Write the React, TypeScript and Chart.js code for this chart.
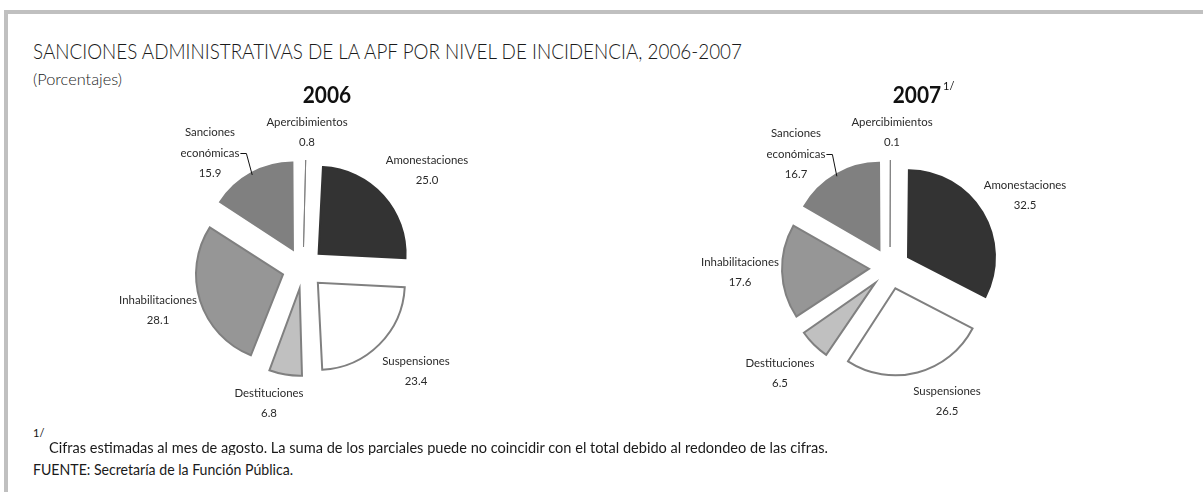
import React, { useEffect, useLayoutEffect, useRef } from 'react';
import { Chart, registerables } from 'chart.js';

Chart.register(...registerables);

// ---------------- data ----------------
const categories = [
  'Apercibimientos',
  'Amonestaciones',
  'Suspensiones',
  'Destituciones',
  'Inhabilitaciones',
  'Sanciones económicas',
];
const labelLines = [
  ['Apercibimientos'],
  ['Amonestaciones'],
  ['Suspensiones'],
  ['Destituciones'],
  ['Inhabilitaciones'],
  ['Sanciones', 'económicas'],
];
const values2006 = [0.8, 25.0, 23.4, 6.8, 28.1, 15.9];
const values2007 = [0.1, 32.5, 26.5, 6.5, 17.6, 16.7];

// ---------------- styles / layout ----------------
const fillColors = ['#9999ff', '#333333', '#ffffff', '#c0c0c0', '#969696', '#808080'];
const borderColors = ['#808080', '#333333', '#808080', '#808080', '#808080', '#808080'];
const borderWidths = [1, 2, 2, 2, 2, 2];
const PIE_RADIUS = 87;
const EXPLODE = 84; // chart.js offset (translation = offset / 4)
const FONT = 'Lato, "Open Sans", sans-serif';
const LABEL_SX = 0.95;
const LABEL_LH = 20.5;
const LEADER_INDEX = 5;
// label block centre relative to pie centre
const labelPos2006 = [[4, -136], [124, -98], [113, 103], [-34, 135], [-145, 42], [-93, -115]];
const labelPos2007 = [[2, -136], [135, -73], [57, 133], [-110, 105], [-150, 4], [-94, -114]];

// keeps every exploded slice at the same radius (chart.js enlarges narrow slices)
const explodeFix = {
  id: 'explodeFix',
  beforeDatasetDraw(chart: any) {
    const meta = chart.getDatasetMeta(0);
    meta.data.forEach((arc: any) => {
      const off = (arc.options.offset || 0) / 4;
      const fix = 1 - Math.sin(Math.min(Math.PI, arc.circumference || 0));
      arc.$baseR = arc.outerRadius;
      arc.outerRadius = arc.$baseR - off * fix;
    });
  },
  afterDatasetDraw(chart: any) {
    const meta = chart.getDatasetMeta(0);
    meta.data.forEach((arc: any) => {
      if (arc.$baseR !== undefined) arc.outerRadius = arc.$baseR;
    });
  },
};

const sliceLabels = {
  id: 'sliceLabels',
  afterDatasetsDraw(chart: any, _args: any, opts: any) {
    const ctx = chart.ctx as CanvasRenderingContext2D;
    const meta = chart.getDatasetMeta(0);
    const data = chart.data.datasets[0].data as number[];
    const positions = opts.positions as number[][];
    ctx.save();
    ctx.font = `400 12px ${FONT}`;
    ctx.fillStyle = '#2a2a2a';
    ctx.strokeStyle = '#111';
    ctx.textAlign = 'center';
    ctx.textBaseline = 'middle';
    meta.data.forEach((arc: any, i: number) => {
      const pos = positions[i];
      const lines = [...labelLines[i], Number(data[i]).toFixed(1)];
      const cx = arc.x + pos[0];
      const cy = arc.y + pos[1];
      const lineY = (k: number) => cy + (k - (lines.length - 1) / 2) * LABEL_LH;
      lines.forEach((t, k) => {
        ctx.save();
        ctx.translate(cx, lineY(k));
        ctx.scale(LABEL_SX, 1);
        ctx.fillText(t, 0, 0);
        ctx.restore();
      });
      if (i === LEADER_INDEX) {
        const k = 1;
        const y = lineY(k);
        const w = ctx.measureText(lines[k]).width * LABEL_SX;
        const x0 = cx + w / 2 + 1;
        const mid = (arc.startAngle + arc.endAngle) / 2;
        const shift = (arc.options.offset || 0) / 4;
        const rr = shift + arc.outerRadius - 2;
        const ex = arc.x + Math.cos(mid) * rr;
        const ey = arc.y + Math.sin(mid) * rr;
        ctx.lineWidth = 1;
        ctx.beginPath();
        ctx.moveTo(x0, y + 0.5);
        ctx.lineTo(x0 + 6, y + 0.5);
        ctx.lineTo(ex, ey);
        ctx.stroke();
      }
    });
    ctx.restore();
  },
};

function PieChart({ values, positions, left, top }: { values: number[]; positions: number[][]; left: number; top: number }) {
  const ref = useRef<HTMLCanvasElement>(null);
  useEffect(() => {
    if (!ref.current) return;
    const chart = new Chart(ref.current, {
      type: 'pie',
      data: {
        labels: categories,
        datasets: [
          {
            data: values,
            backgroundColor: fillColors,
            borderColor: borderColors,
            borderWidth: borderWidths,
            borderJoinStyle: 'miter',
            offset: EXPLODE,
            hoverOffset: 0,
          } as any,
        ],
      },
      options: {
        responsive: false,
        animation: false,
        radius: PIE_RADIUS,
        events: [],
        layout: { padding: 0 },
        plugins: {
          legend: { display: false },
          tooltip: { enabled: false },
          title: { display: false },
          sliceLabels: { positions },
        } as any,
      } as any,
      plugins: [explodeFix, sliceLabels],
    });
    return () => chart.destroy();
  }, [values, positions]);
  return (
    <canvas
      ref={ref}
      width={400}
      height={340}
      style={{ position: 'absolute', left, top, width: 400, height: 340 }}
    />
  );
}

function FitText({ text, left, top, width, size, weight = 400 }: { text: string; left: number; top: number; width: number; size: number; weight?: number }) {
  const ref = useRef<HTMLSpanElement>(null);
  useLayoutEffect(() => {
    const el = ref.current;
    if (!el) return;
    el.style.transform = 'translateY(-50%)';
    const w = el.getBoundingClientRect().width;
    if (w > 0) el.style.transform = `translateY(-50%) scaleX(${width / w})`;
  }, [text, width]);
  return (
    <span
      ref={ref}
      style={{
        position: 'absolute',
        left,
        top,
        fontFamily: FONT,
        fontSize: size,
        fontWeight: weight,
        lineHeight: 1,
        whiteSpace: 'nowrap',
        transformOrigin: '0 50%',
        color: '#1a1a1a',
      }}
    >
      {text}
    </span>
  );
}

function Centered({ text, x, y, size, weight = 400 }: { text: string; x: number; y: number; size: number; weight?: number }) {
  return (
    <span
      style={{
        position: 'absolute',
        left: x,
        top: y,
        transform: 'translate(-50%, -50%) scaleX(0.95)',
        fontFamily: FONT,
        fontSize: size,
        fontWeight: weight,
        lineHeight: 1,
        whiteSpace: 'nowrap',
        color: '#111',
      }}
    >
      {text}
    </span>
  );
}

export default function App() {
  return (
    <div
      style={{
        position: 'absolute',
        left: 0,
        top: 0,
        width: 1203,
        height: 492,
        background: '#ffffff',
        overflow: 'hidden',
      }}
    >
      <div style={{ position: 'absolute', left: 4, top: 10, width: 1199, height: 4, background: '#c0c0c0' }} />
      <div style={{ position: 'absolute', left: 4, top: 10, width: 4, height: 482, background: '#c0c0c0' }} />

      <PieChart values={values2006} positions={labelPos2006} left={103} top={98} />
      <PieChart values={values2007} positions={labelPos2007} left={690} top={98} />

      <FitText text="SANCIONES ADMINISTRATIVAS DE LA APF POR NIVEL DE INCIDENCIA, 2006-2007" left={33} top={50} width={709} size={21} weight={300} />
      <FitText text="(Porcentajes)" left={33} top={79} width={89} size={16} weight={300} />

      <Centered text="2006" x={327} y={95} size={22} weight={700} />
      <Centered text="2007" x={917} y={95} size={22} weight={700} />
      <span style={{ position: 'absolute', left: 943, top: 80, fontFamily: FONT, fontSize: 11, lineHeight: 1, color: '#111' }}>1/</span>

      <span style={{ position: 'absolute', left: 33, top: 427, fontFamily: FONT, fontSize: 11, lineHeight: 1, color: '#111' }}>1/</span>
      <FitText
        text="Cifras estimadas al mes de agosto. La suma de los parciales puede no coincidir con el total debido al redondeo de las cifras."
        left={49}
        top={447}
        width={779}
        size={15}
      />
      <FitText text="FUENTE: Secretaría de la Función Pública." left={33} top={469} width={260} size={15} />
    </div>
  );
}
